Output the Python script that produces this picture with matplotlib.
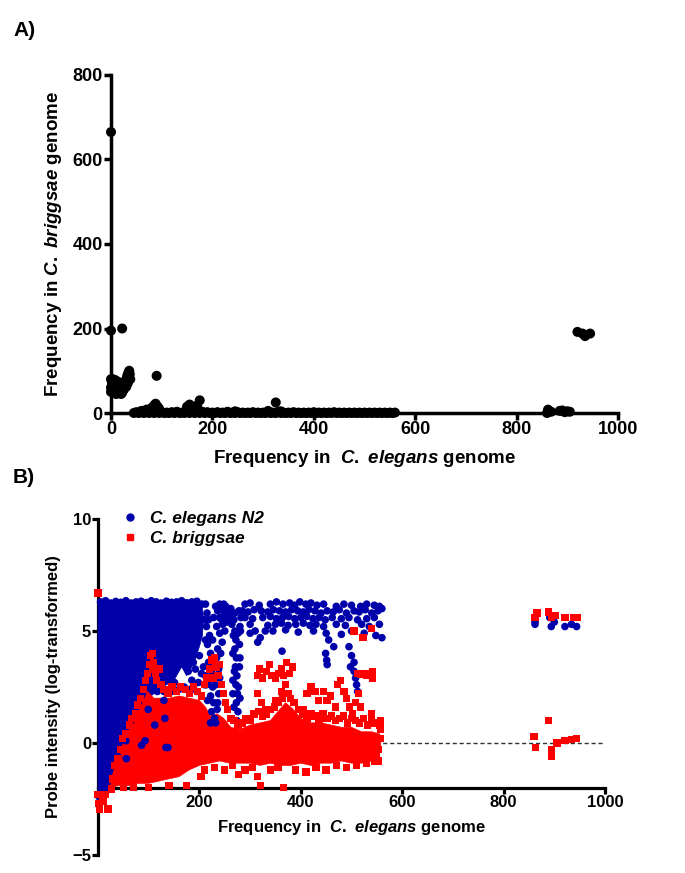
import matplotlib
matplotlib.use("Agg")
import matplotlib.pyplot as plt
from matplotlib.lines import Line2D

plt.rcParams['font.family'] = ['Liberation Sans', 'DejaVu Sans']
plt.rcParams['font.weight'] = 'bold'
plt.rcParams['mathtext.fontset'] = 'custom'
plt.rcParams['mathtext.rm'] = 'Liberation Sans:bold'
plt.rcParams['mathtext.it'] = 'Liberation Sans:italic:bold'
plt.rcParams['mathtext.bf'] = 'Liberation Sans:bold'

# ---------------- Panel A data ----------------
a_x = [0, 0, 22,
       0, 0, 2, 4, 5, 8, 10, 12, 15, 18, 20, 22, 25, 27, 28, 30, 32, 34, 36, 35, 37, 38, 33, 30, 26, 24, 20, 16, 12, 8, 4, 2, 0,
       90,
       45, 55, 65, 75, 85, 95, 105, 115, 125, 135, 145, 155, 165, 175, 185, 195, 205, 215, 225, 235, 245, 255,
       265, 275, 285, 295, 305, 315, 325, 335, 345, 355, 365, 375, 385, 395, 405, 415, 425, 435, 445, 455,
       465, 475, 485, 495, 505, 515, 525, 535, 545, 555,
       50, 60, 70, 80, 90, 100, 110, 120, 130, 140, 150, 160, 170, 180, 190, 200, 210, 220, 230, 240, 250, 260,
       270, 280, 290, 300, 310, 320, 330, 340, 350, 360, 370, 380, 390, 400, 410, 420, 430, 440, 450, 460,
       470, 480, 490, 500, 510, 520, 530, 540, 550, 560,
       60, 70, 80, 85, 88, 92, 95, 150, 155, 160, 170, 175, 165, 230, 245, 310, 325, 335,
       860, 862, 868, 885, 890, 895, 900, 905,
       920, 935, 945, 930]
a_y = [665, 195, 200,
       50, 60, 70, 65, 55, 50, 45, 60, 55, 50, 45, 48, 55, 65, 75, 80, 88, 95, 100, 85, 92, 80, 70, 62, 58, 70, 68, 72, 75, 78, 80, 75, 80,
       88,
       0, 0, 0, 0, 0, 0, 0, 0, 0, 0, 0, 0, 0, 0, 0, 0, 0, 0, 0, 0, 0, 0,
       0, 0, 0, 0, 0, 0, 0, 0, 0, 0, 0, 0, 0, 0, 0, 0, 0, 0, 0, 0,
       0, 0, 0, 0, 0, 0, 0, 0, 0, 0,
       2, 3, 4, 6, 5, 2, 1, 2, 3, 1, 6, 4, 5, 3, 2, 1, 2, 1, 2, 1, 2, 1,
       1, 2, 1, 1, 2, 1, 3, 1, 1, 2, 1, 1, 1, 2, 1, 1, 1, 2, 1, 1,
       1, 1, 1, 1, 1, 1, 1, 1, 1, 1,
       5, 8, 12, 18, 22, 15, 10, 15, 20, 12, 18, 30, 8, 3, 4, 5, 25, 4,
       0, 8, 3, 5, 6, 2, 4, 3,
       192, 182, 188, 188]

a_xticks = [0, 200, 400, 600, 800, 1000]
a_yticks = [0, 200, 400, 600, 800]

# ---------------- Panel B data ----------------
# outlines of the saturated (fully overlapping) parts of the two point clouds
blue_mass_x = [0, 0, 205, 208, 206, 200, 190, 175, 165, 150, 135, 120, 100, 70, 45, 30, 24, 15, 0]
blue_mass_y = [-2.4, 6.25, 6.25, 5.6, 4.8, 4.3, 3.6, 3.0, 3.4, 2.8, 2.6, 2.4, 2.0, 0.5, -0.6, -1.5, -2.2, -2.35, -2.4]

red_mass_x = [24, 30, 40, 50, 60, 70, 80, 90, 98, 110, 125, 140, 160, 180, 200, 212, 222, 235, 248, 262,
              280, 300, 320, 340, 355, 370, 385, 400, 420, 440, 460, 480, 500, 520, 540, 556, 558,
              540, 520, 500, 480, 460, 440, 420, 400, 380, 360, 340, 320, 300, 280, 260, 240, 220, 200,
              180, 160, 140, 120, 100, 80, 60, 40, 24]
red_mass_y = [-2.0, -1.3, -0.6, 0.0, 0.5, 0.9, 1.4, 1.9, 2.3, 2.0, 2.0, 2.0, 2.1, 2.0, 1.9, 1.6, 1.2, 1.3, 1.1, 0.7,
              0.6, 0.8, 0.9, 1.0, 1.4, 1.8, 1.5, 1.1, 0.9, 0.9, 0.8, 0.7, 0.7, 0.5, 0.5, 0.4, -0.4,
              -0.8, -0.9, -0.9, -0.8, -0.9, -0.9, -1.0, -0.9, -1.0, -1.0, -0.9, -1.0, -0.9, -0.9, -0.9, -0.8, -0.9, -1.0,
              -1.2, -1.5, -1.6, -1.7, -1.8, -1.8, -1.9, -1.9, -2.0]

blue_x = [5, 15, 25, 35, 45, 55, 65, 75, 85, 95, 105, 115, 125, 135, 145, 155, 165, 175, 185, 195, 205,
          # column near 225
          212, 215, 218, 214, 220, 216, 222, 218, 224, 220, 226, 222, 228, 224, 230, 232, 235, 238, 236, 240,
          232, 244, 248, 252, 256, 228, 234, 240, 246, 226, 230, 258, 262, 250, 245,
          212, 236, 234, 238, 212, 214, 232, 216, 236, 222, 240, 248, 254, 260, 244, 250, 210, 242, 240,
          # column near 273
          268, 270, 272, 270, 273, 271, 274, 272, 275, 273, 276, 274, 278, 282, 276, 280, 269, 277, 275,
          266, 266, 268, 279, 279, 280, 270, 264, 280, 267, 281, 266,
          # upper cloud rows
          290, 300, 318, 340, 352, 365, 378, 388, 398, 410, 420, 432, 445, 470, 485, 500, 518, 530, 545, 555,
          285, 296, 308, 322, 335, 346, 358, 370, 382, 394, 405, 416, 428, 440, 452, 464, 476, 490, 505, 515, 527, 540, 552,
          290, 305, 325, 340, 352, 364, 376, 388, 400, 412, 424, 436, 448, 462, 480, 495, 512, 530, 545,
          300, 335, 350, 362, 375, 390, 405, 418, 430, 445, 470, 488, 520, 535, 555,
          310, 345, 370, 395, 425, 450, 480, 500, 525, 548, 560, 560,
          300, 320, 330, 315, 363, 455, 465, 449, 451, 452, 495, 500, 505, 498, 505, 508, 510, 512,
          # mixed zone left of 210
          178, 185, 192, 198, 204, 182, 195, 188, 200, 208, 170, 160, 145, 130, 115, 210,
          # dots inside red
          86, 112, 138, 39, 56, 99, 130, 117, 151, 2, 13, 26, 42, 55, 65, 134, 93, 132,
          862, 862, 891, 894, 900, 921, 934, 944]
blue_y = [6.3, 6.35, 6.25, 6.32, 6.28, 6.35, 6.25, 6.3, 6.33, 6.27, 6.35, 6.3, 6.25, 6.33, 6.28, 6.3, 6.35, 6.26, 6.3, 6.33, 6.2,
          6.2, 5.8, 5.5, 5.2, 4.8, 4.4, 4.0, 3.6, 3.2, 2.8, 2.5, 2.1, 1.8, 1.4, 1.1, 0.9, 1.5, 2.2, 5.9, 5.6,
          6.1, 6.0, 5.7, 6.1, 5.8, 5.6, 5.2, 4.9, 5.3, 4.6, 3.5, 5.5, 6.0, 5.0, 4.5,
          4.6, 4.2, 3.8, 3.3, 3.0, 2.6, 2.6, 1.9, 1.8, 0.9, 6.2, 6.2, 5.4, 5.7, 5.5, 5.9, 5.5, 4.0, 2.9,
          5.5, 5.0, 4.6, 4.2, 3.8, 3.4, 3.0, 2.6, 2.2, 1.8, 1.4, 1.0, 5.9, 5.6, 4.9, 5.2, 3.2, 2.5, 0.9,
          4.0, 2.8, 1.6, 4.4, 3.4, 2.0, 5.8, 5.3, 3.8, 4.8, 5.0, 2.2,
          6.2, 6.25, 6.15, 6.2, 6.3, 6.2, 6.25, 6.15, 6.3, 6.2, 6.25, 6.15, 6.2, 6.1, 6.2, 6.15, 6.1, 6.2, 6.15, 6.1,
          5.9, 5.85, 5.95, 5.9, 5.85, 5.95, 5.9, 5.85, 5.95, 5.9, 5.85, 5.95, 5.9, 5.8, 5.9, 5.85, 5.95, 5.8, 5.9, 5.85, 5.95, 5.8, 5.9,
          5.6, 5.55, 5.6, 5.65, 5.55, 5.6, 5.65, 5.55, 5.6, 5.65, 5.55, 5.6, 5.5, 5.6, 5.55, 5.6, 5.5, 5.55, 5.6,
          5.3, 5.25, 5.3, 5.35, 5.25, 5.3, 5.35, 5.25, 5.3, 5.2, 5.3, 5.25, 5.3, 5.2, 5.3,
          5.0, 5.0, 5.05, 4.95, 5.0, 4.9, 4.85, 5.0, 4.9, 4.8, 6.0, 4.7,
          4.9, 4.7, 5.0, 4.5, 4.1, 4.6, 4.3, 4.0, 3.7, 3.5, 4.3, 3.9, 3.6, 3.4, 3.2, 2.9, 2.6, 2.3,
          3.2, 2.8, 3.3, 2.7, 3.1, 2.4, 2.3, 3.6, 3.9, 3.4, 2.5, 2.4, 2.3, 2.3, 2.5, 2.6,
          -0.1, 0.8, -0.2, -0.6, -0.7, 1.5, 1.9, 2.3, 2.7, -2.4, -1.5, -0.95, 0.1, 0.1, 1.0, -0.2, 0.1, 1.1,
          5.4, 5.3, 5.6, 5.2, 5.4, 5.2, 5.3, 5.2]

red_x = [0, 1, 3, 10, 20, 26, 15, 0,
         # left diagonal edge
         28, 33, 38, 44, 48, 55, 62, 66, 74, 78, 84, 90, 94, 98, 101, 103, 107, 110, 113, 116, 120, 124, 108,
         # top edge 125-262
         130, 138, 146, 155, 163, 172, 180, 188, 196, 204, 210, 215, 220, 225, 230, 233, 237, 240, 228, 244,
         248, 252, 256, 262,
         # top edge of main cloud 262-558
         268, 276, 284, 292, 300, 308, 316, 324, 332, 340, 348, 356, 364, 372, 380, 388, 396, 404, 412, 420,
         428, 436, 444, 452, 460, 468, 476, 484, 492, 500, 508, 516, 524, 532, 540, 548, 556,
         # high red squares
         315, 318, 325, 332, 338, 343, 350, 356, 362, 366, 372, 378, 384,
         315, 322, 330, 350, 362, 370, 375, 385,
         405, 412, 420, 428, 435, 445, 452, 458, 468, 472, 478, 485, 490, 496, 502, 508, 514, 518,
         505, 523, 540, 512, 518, 524, 530, 536, 542, 542,
         540, 545, 557, 557, 557, 552, 548, 553,
         # bottom outliers and bottom edge
         203, 277, 320, 366, 315, 175, 140, 100, 70, 50,
         210, 230, 250, 265, 290, 305, 340, 355, 390, 410, 430, 450, 470, 490, 510, 530, 545,
         866, 862, 888, 902, 895, 921, 938, 946,
         860, 863, 888, 895, 895, 905, 921, 934, 944]
red_y = [-2.3, -2.7, -2.95, -2.6, -2.95, -2.05, -2.3, 6.7,
         -1.6, -1.0, -0.7, -0.3, 0.2, 0.4, 0.8, 1.1, 1.3, 1.7, 2.0, 2.4, 2.8, 3.1, 3.5, 3.9, 4.0, 3.6, 3.1, 2.8, 3.3, 2.6, 3.3,
         2.4, 2.2, 2.5, 2.3, 2.5, 2.4, 2.2, 2.5, 2.3, 2.1, 2.6, 2.9, 3.3, 3.7, 3.8, 3.4, 3.0, 3.5, 2.9, 2.6,
         2.2, 1.8, 1.5, 1.1,
         1.0, 0.8, 0.9, 1.1, 1.0, 1.3, 1.4, 1.2, 1.3, 1.5, 1.6, 1.8, 2.0, 2.2, 2.0, 1.8, 1.5, 1.3, 1.1, 1.3,
         1.2, 1.0, 1.3, 1.1, 1.2, 1.0, 1.1, 1.2, 0.9, 1.1, 1.0, 0.9, 1.1, 0.8, 1.0, 0.9, 0.8,
         3.0, 3.3, 2.9, 3.2, 3.5, 3.0, 2.9, 3.1, 3.3, 3.0, 3.6, 3.1, 3.4,
         2.2, 1.8, 1.5, 1.9, 2.3, 2.6, 2.2, 1.8,
         1.5, 2.2, 2.5, 2.3, 1.9, 2.3, 1.9, 2.1, 1.6, 2.6, 2.8, 2.3, 2.0, 1.6, 1.3, 1.8, 2.2, 1.6,
         5.0, 4.7, 5.1, 3.1, 3.05, 3.1, 3.0, 3.1, 3.2, 2.9,
         1.3, 0.9, 1.0, 0.6, 0.2, -0.3, -0.6, -0.8,
         -1.5, -1.4, -1.9, -2.0, -1.5, -1.9, -1.9, -2.0, -2.0, -2.0,
         -1.2, -1.1, -1.2, -1.0, -1.2, -1.1, -1.2, -1.1, -1.2, -1.3, -1.1, -1.2, -1.0, -1.1, -1.0, -0.9, -0.8,
         5.8, 5.6, 5.85, 5.7, 5.6, 5.6, 5.6, 5.6,
         0.3, -0.2, 1.0, -0.3, -0.6, 0.0, 0.1, 0.15, 0.2]

b_xticks = [200, 400, 600, 800, 1000]
b_yticks = [-5, 0, 5, 10]
legend_labels = ['C. elegans N2', 'C. briggsae']

BLUE = '#0000AA'
RED = '#FF0000'

fig = plt.figure(figsize=(6.85, 8.73), dpi=100)

# ---------------- Panel A ----------------
axA = fig.add_axes([111 / 685, 1 - 413 / 873, 507 / 685, 338 / 873])
axA.scatter(a_x, a_y, s=52, c='black', edgecolors='none', zorder=4, clip_on=False)
axA.set_xlim(0, 1000)
axA.set_ylim(0, 800)
axA.set_xticks(a_xticks)
axA.set_yticks(a_yticks)
for s in ['top', 'right']:
    axA.spines[s].set_visible(False)
for s in ['left', 'bottom']:
    axA.spines[s].set_linewidth(2.5)
axA.tick_params(direction='out', length=5, width=2.5, labelsize=13, pad=1)
for lab in axA.get_xticklabels() + axA.get_yticklabels():
    lab.set_fontweight('bold')
axA.set_xlabel(r'Frequency in  $\mathit{C.\ elegans}$ genome', fontsize=13.5, fontweight='bold', labelpad=7)
axA.set_ylabel(r'Frequency in $\mathit{C.\ briggsae}$ genome', fontsize=13.5, fontweight='bold', labelpad=6)
fig.text(13 / 685, 1 - 36 / 873, 'A)', fontsize=15, fontweight='bold')

# ---------------- Panel B ----------------
axB = fig.add_axes([98 / 685, 1 - 855 / 873, 507 / 685, 336 / 873])
axB.plot([0, 1000], [0, 0], ls=(0, (3, 2)), color='#333333', lw=1.0, zorder=2)
axB.fill(blue_mass_x, blue_mass_y, color=BLUE, lw=0.5, zorder=3, clip_on=False)
axB.fill(red_mass_x, red_mass_y, color=RED, lw=0.5, zorder=3.1, clip_on=False)
axB.scatter(blue_x, blue_y, s=30, marker='o', c=BLUE, edgecolors='none', zorder=3.2, clip_on=False)
axB.scatter(red_x, red_y, s=28, marker='s', c=RED, edgecolors='none', zorder=3.3, clip_on=False)
axB.set_xlim(0, 1000)
axB.set_ylim(-5, 10)
axB.set_xticks(b_xticks)
axB.set_yticks(b_yticks)
for s in ['top', 'right']:
    axB.spines[s].set_visible(False)
axB.spines['bottom'].set_position(('data', -2))
for s in ['left', 'bottom']:
    axB.spines[s].set_linewidth(2.3)
axB.tick_params(direction='out', length=4, width=2.3, labelsize=12, pad=1)
for lab in axB.get_xticklabels() + axB.get_yticklabels():
    lab.set_fontweight('bold')
axB.set_xlabel(r'Frequency in  $\mathit{C.\ elegans}$ genome', fontsize=12, fontweight='bold', labelpad=6)
axB.set_ylabel('Probe intensity (log-transformed)', fontsize=12, fontweight='bold', labelpad=8)
fig.text(13 / 685, 1 - 483 / 873, 'B)', fontsize=15, fontweight='bold')

handles = [Line2D([], [], ls='none', marker='o', color=BLUE, markersize=5),
           Line2D([], [], ls='none', marker='s', color=RED, markersize=5)]
axB.legend(handles, legend_labels, loc='upper left', bbox_to_anchor=(0.04, 1.045),
           frameon=False, handlelength=0.6, handletextpad=0.8, labelspacing=0.3, borderaxespad=0,
           prop={'size': 12.5, 'weight': 'bold', 'style': 'italic'})

fig.savefig('out.png', dpi=100)
